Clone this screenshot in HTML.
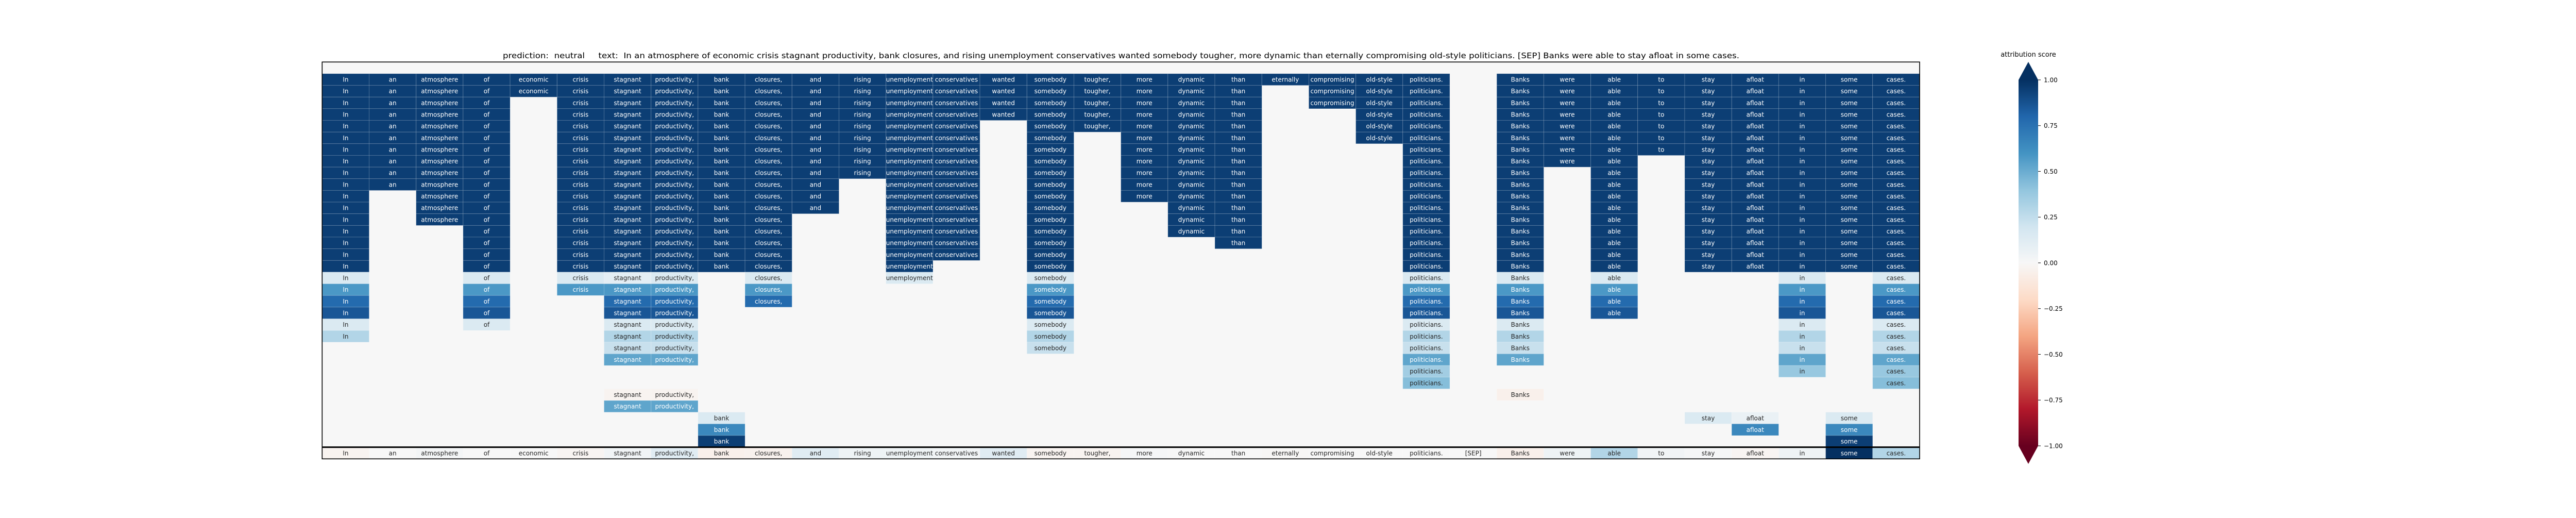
<!DOCTYPE html>
<html><head><meta charset="utf-8">
<style>
html,body{margin:0;padding:0;background:#fff;}
svg text{font-family:"DejaVu Sans","Liberation Sans",sans-serif;}
</style></head>
<body>
<svg id="chart" width="5000" height="1000" viewBox="0 0 5000 1000" xmlns="http://www.w3.org/2000/svg">
<rect x="0" y="0" width="5000" height="1000" fill="#ffffff"/>
<text x="976" y="113" font-size="15" fill="#000" textLength="2400" lengthAdjust="spacingAndGlyphs" style="white-space:pre">prediction:  neutral     text:  In an atmosphere of economic crisis stagnant productivity, bank closures, and rising unemployment conservatives wanted somebody tougher, more dynamic than eternally compromising old-style politicians. [SEP] Banks were able to stay afloat in some cases.</text>
<g id="cells"></g>
<g id="cbar"></g>
</svg>
<script>
const _ = null;
const tokens = ["In","an","atmosphere","of","economic","crisis","stagnant","productivity,","bank","closures,","and","rising","unemployment","conservatives","wanted","somebody","tougher,","more","dynamic","than","eternally","compromising","old-style","politicians.","[SEP]","Banks","were","able","to","stay","afloat","in","some","cases."];
// per-column values for rows 0..32 (missing trailing entries = masked)
const colIn = [_,.95,.95,.95,.95,.95,.95,.95,.95,.95,.95,.95,.95,.95,.95,.95,.95,.95,.15,.58,.78,.86,.15,.3];
const colAn = [_,.95,.95,.95,.95,.95,.95,.95,.95,.95,.95];
const colAtmosphere = [_,.95,.95,.95,.95,.95,.95,.95,.95,.95,.95,.95,.95,.95];
const colOf = [_,.95,.95,.95,.95,.95,.95,.95,.95,.95,.95,.95,.95,.95,.95,.95,.95,.95,.15,.58,.78,.86,.15];
const colEconomic = [_,.95,.95];
const colCrisis = [_,.95,.95,.95,.95,.95,.95,.95,.95,.95,.95,.95,.95,.95,.95,.95,.95,.95,.15,.58];
const colStagnant = [_,.95,.95,.95,.95,.95,.95,.95,.95,.95,.95,.95,.95,.95,.95,.95,.95,.95,.1,.58,.78,.86,.15,.3,.23,.53,_,_,-.03,.53];
const colProductivity = [_,.95,.95,.95,.95,.95,.95,.95,.95,.95,.95,.95,.95,.95,.95,.95,.95,.95,.15,.58,.78,.86,.15,.3,.23,.53,_,_,-.03,.53];
const colBank = [_,.95,.95,.95,.95,.95,.95,.95,.95,.95,.95,.95,.95,.95,.95,.95,.95,.95,_,_,_,_,_,_,_,_,_,_,_,_,.15,.65,.95];
const colClosures = [_,.95,.95,.95,.95,.95,.95,.95,.95,.95,.95,.95,.95,.95,.95,.95,.95,.95,.15,.58,.78];
const colAnd = [_,.95,.95,.95,.95,.95,.95,.95,.95,.95,.95,.95,.95];
const colRising = [_,.95,.95,.95,.95,.95,.95,.95,.95,.95];
const colUnemployment = [_,.95,.95,.95,.95,.95,.95,.95,.95,.95,.95,.95,.95,.95,.95,.95,.95,.95,.15];
const colConservatives = [_,.95,.95,.95,.95,.95,.95,.95,.95,.95,.95,.95,.95,.95,.95,.95,.95];
const colWanted = [_,.95,.95,.95,.95];
const colSomebody = [_,.95,.95,.95,.95,.95,.95,.95,.95,.95,.95,.95,.95,.95,.95,.95,.95,.95,.15,.58,.78,.86,.15,.3,.23];
const colTougher = [_,.95,.95,.95,.95,.95];
const colMore = [_,.95,.95,.95,.95,.95,.95,.95,.95,.95,.95,.95];
const colDynamic = [_,.95,.95,.95,.95,.95,.95,.95,.95,.95,.95,.95,.95,.95,.95];
const colThan = [_,.95,.95,.95,.95,.95,.95,.95,.95,.95,.95,.95,.95,.95,.95,.95];
const colEternally = [_,.95];
const colCompromising = [_,.95,.95,.95];
const colOldStyle = [_,.95,.95,.95,.95,.95,.95];
const colPoliticians = [_,.95,.95,.95,.95,.95,.95,.95,.95,.95,.95,.95,.95,.95,.95,.95,.95,.95,.15,.58,.78,.86,.15,.3,.23,.53,.35,.43];
const colSep = [];
const colBanks = [_,.95,.95,.95,.95,.95,.95,.95,.95,.95,.95,.95,.95,.95,.95,.95,.95,.95,.15,.58,.78,.86,.15,.3,.23,.53,_,_,-.05];
const colWere = [_,.95,.95,.95,.95,.95,.95,.95,.95];
const colAble = [_,.95,.95,.95,.95,.95,.95,.95,.95,.95,.95,.95,.95,.95,.95,.95,.95,.95,.15,.58,.78,.86];
const colTo = [_,.95,.95,.95,.95,.95,.95,.95];
const colStay = [_,.95,.95,.95,.95,.95,.95,.95,.95,.95,.95,.95,.95,.95,.95,.95,.95,.95,_,_,_,_,_,_,_,_,_,_,_,_,.15];
const colAfloat = [_,.95,.95,.95,.95,.95,.95,.95,.95,.95,.95,.95,.95,.95,.95,.95,.95,.95,_,_,_,_,_,_,_,_,_,_,_,_,.07,.65];
const colIn2 = [_,.95,.95,.95,.95,.95,.95,.95,.95,.95,.95,.95,.95,.95,.95,.95,.95,.95,.15,.58,.78,.86,.15,.3,.23,.53,.38];
const colSome = [_,.95,.95,.95,.95,.95,.95,.95,.95,.95,.95,.95,.95,.95,.95,.95,.95,.95,_,_,_,_,_,_,_,_,_,_,_,_,.15,.65,.95];
const colCases = [_,.95,.95,.95,.95,.95,.95,.95,.95,.95,.95,.95,.95,.95,.95,.95,.95,.95,.15,.58,.78,.86,.15,.3,.23,.53,.38,.43];
// final row: full-input attribution
const fullRow = [-.03,0,.02,0,0,-.02,.03,.12,-.05,-.04,.12,.05,.05,.03,.12,-.03,-.03,.01,0,0,-.01,0,0,0,0,-.05,.05,.3,.03,.01,-.02,.05,1.0,.3];
const cbarTicks = [1.0,0.75,0.5,0.25,0,-0.25,-0.5,-0.75,-1.0];

const columns = [colIn,colAn,colAtmosphere,colOf,colEconomic,colCrisis,colStagnant,colProductivity,colBank,colClosures,colAnd,colRising,colUnemployment,colConservatives,colWanted,colSomebody,colTougher,colMore,colDynamic,colThan,colEternally,colCompromising,colOldStyle,colPoliticians,colSep,colBanks,colWere,colAble,colTo,colStay,colAfloat,colIn2,colSome,colCases];

const NS = "http://www.w3.org/2000/svg";
const X0 = 625.3, X1 = 3726, Y0 = 120.3, Y1 = 890.3;
const NROWS = 34, NCOLS = tokens.length;
const cw = (X1 - X0) / NCOLS, rh = (Y1 - Y0) / NROWS;
const xPos = c => X0 + c * cw;
const yPos = r => Y0 + r * rh;

const stops = [[-1,"#67001f"],[-0.8,"#b2182b"],[-0.6,"#d6604d"],[-0.4,"#f4a582"],[-0.2,"#fddbc7"],[0,"#f7f7f7"],[0.2,"#d1e5f0"],[0.4,"#92c5de"],[0.6,"#4393c3"],[0.8,"#2166ac"],[1,"#053061"]];
function hex(h){return [1,3,5].map(i=>parseInt(h.substr(i,2),16));}
function cmap(v){
  v = Math.max(-1, Math.min(1, v));
  for (let i=0;i<stops.length-1;i++){
    const [a,ca]=stops[i],[b,cb]=stops[i+1];
    if (v<=b){const t=(v-a)/(b-a);const A=hex(ca),B=hex(cb);
      return "rgb("+A.map((x,k)=>Math.round(x+(B[k]-x)*t)).join(",")+")";}
  }
  return stops[stops.length-1][1];
}
const g = document.getElementById("cells");
function mk(tag, attrs, parent){const e=document.createElementNS(NS,tag);for(const k in attrs)e.setAttribute(k,attrs[k]);parent.appendChild(e);return e;}

const bg = mk("rect",{x:X0,y:Y0,width:X1-X0,height:Y1-Y0,fill:cmap(0)},g);



function drawCell(r, c, v){
  const masked = (v === null || v === undefined);
  const val = masked ? 0 : v;
  const rect = mk("rect",{x:xPos(c),y:yPos(r),width:cw,height:rh,fill:cmap(val),stroke:"rgba(255,255,255,0.18)","stroke-width":1},g);
  
  
  if (!masked){
    const t = mk("text",{x:xPos(c)+cw/2,y:yPos(r)+rh/2+4.3,"text-anchor":"middle","font-size":12,fill:Math.abs(val)>0.5?"#ffffff":"#262626"},g);
    t.textContent = tokens[c];
    
    
  }
}
for (let c=0;c<NCOLS;c++){
  for (let r=0;r<NROWS-1;r++){
    const v = columns[c][r];
    if (v !== null && v !== undefined) drawCell(r,c,v);
  }
  drawCell(NROWS-1, c, fullRow[c]);
}
const sep = mk("line",{x1:X0,x2:X1,y1:yPos(NROWS-1),y2:yPos(NROWS-1),stroke:"#000","stroke-width":3},g);


const frame = mk("rect",{x:X0,y:Y0,width:X1-X0,height:Y1-Y0,fill:"none",stroke:"#000","stroke-width":1.6},g);



// colorbar
const cb = document.getElementById("cbar");
const CX0 = 3918, CX1 = 3956, CT = 155, CB = 865;
const cy = v => CT + (1 - v) / 2 * (CB - CT);
const defs = mk("defs",{},cb);
const grad = mk("linearGradient",{id:"rdbu",x1:0,y1:0,x2:0,y2:1},defs);
for (let i=stops.length-1;i>=0;i--){
  mk("stop",{offset:((1-stops[i][0])/2*100)+"%","stop-color":stops[i][1]},grad);
}
const cbRect = mk("rect",{x:CX0,y:CT,width:CX1-CX0,height:CB-CT,fill:"url(#rdbu)"},cb);


const up = mk("polygon",{points:`${CX0},${CT} ${CX1},${CT} ${(CX0+CX1)/2},${CT-35}`,fill:"#053061"},cb);


const dn = mk("polygon",{points:`${CX0},${CB} ${CX1},${CB} ${(CX0+CX1)/2},${CB+35}`,fill:"#67001f"},cb);


cbarTicks.forEach(v=>{
  const tk = mk("line",{x1:CX1,x2:CX1+5,y1:cy(v),y2:cy(v),stroke:"#000","stroke-width":1},cb);
  
  
  const lb = mk("text",{x:CX1+11,y:cy(v)+4.3,"font-size":12,fill:"#000"},cb);
  lb.textContent = (v<0?"\u2212":"") + Math.abs(v).toFixed(2);
  
  
});
const cbt = mk("text",{x:(CX0+CX1)/2,y:110,"text-anchor":"middle","font-size":13,fill:"#000"},cb);
cbt.textContent = "attribution score";


</script>
</body></html>
